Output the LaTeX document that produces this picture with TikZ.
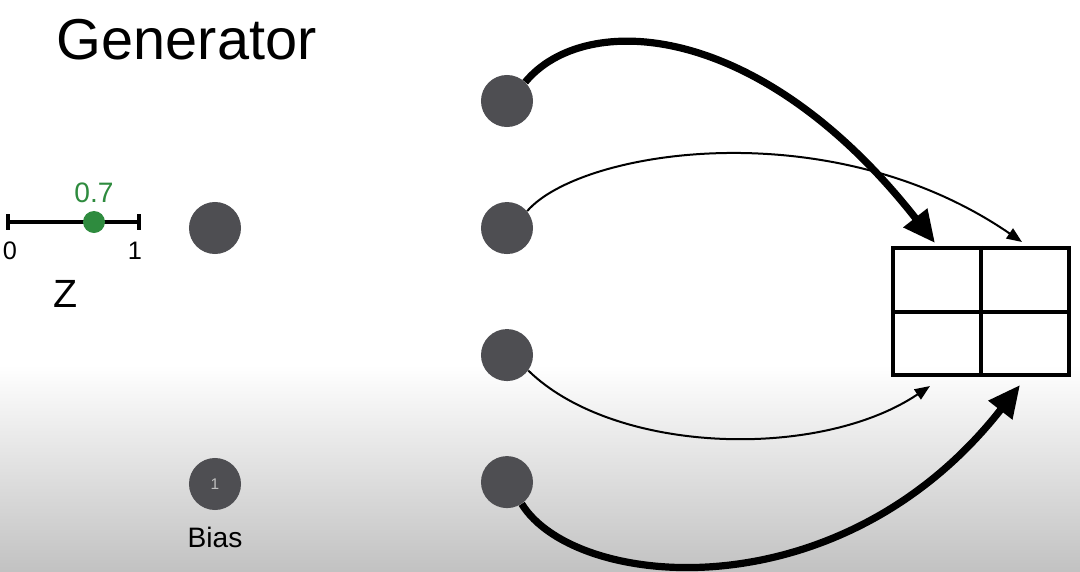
\documentclass[tikz,border=0pt]{standalone}
\usepackage{fontspec}
\setmainfont{Liberation Sans}
\usetikzlibrary{arrows.meta,positioning}
\definecolor{nodegray}{HTML}{4E4E52}
\definecolor{zgreen}{HTML}{2E8B3E}

\begin{document}
\begin{tikzpicture}[x=0.025cm,y=-0.025cm,node distance={3.175cm},on grid,
  main/.style={circle,fill=nodegray,minimum size=1.3cm,inner sep=0pt},
  weakedge/.style={-{Triangle[length=0.38cm,width=0.3cm]},line width=0.05cm},
  strongedge/.style={-{Triangle[length=0.8cm,width=0.72cm]},line width=0.18cm}]
\useasboundingbox (0,0) rectangle (1080,572);
\fill[white] (0,0) rectangle (1080,365);
\shade[top color=white,bottom color=black!24] (0,365) rectangle (1080,572);

\node[anchor=west,font=\fontsize{41}{48}\selectfont] (title) at (52,40) {Generator};

% latent value z
\draw[line width=0.08cm] (8,222) -- (139,222);
\draw[line width=0.08cm] (8,214) -- (8,230);
\draw[line width=0.08cm] (139,214) -- (139,230);
\node[circle,fill=zgreen,minimum size=0.55cm,inner sep=0pt] (zval) at (94,222) {};
\node[text=zgreen,font=\fontsize{20}{24}\selectfont] (zlbl) at (94,193) {0.7};
\node[font=\fontsize{18}{22}\selectfont] (zmin) at (10,251) {0};
\node[font=\fontsize{18}{22}\selectfont] (zmax) at (135,251) {1};
\node[font=\fontsize{28}{33}\selectfont] (zname) at (66,294) {Z};

% input and bias
\node[main] (in) at (215,228) {};
\node[main,text=black!25,font=\fontsize{11}{13}\selectfont] (bias) at (215,484) {1};
\node[font=\fontsize{20}{24}\selectfont] (biaslbl) at (215,537) {Bias};

% hidden layer
\node[main] (h1) at (507,101) {};
\node[main] (h2) [below=of h1] {};
\node[main] (h3) [below=of h2] {};
\node[main] (h4) [below=of h3] {};

% output image
\node[draw,line width=0.1cm,minimum width=4.4cm,minimum height=3.175cm,inner sep=0pt] (img) at (981,311.5) {};
\draw[line width=0.1cm] (img.north) -- (img.south);
\draw[line width=0.1cm] (img.west) -- (img.east);

\coordinate (t1) at (935,243);
\coordinate (t2) at (1022,242);
\coordinate (t3) at (930,386);
\coordinate (t4) at (1020,385);

\draw[strongedge] (h1.46) .. controls (585,10) and (760,20) .. (t1);
\draw[weakedge] (h2.40) .. controls (580,150) and (830,110) .. (t2);
\draw[weakedge] (h3.-36) .. controls (615,455) and (820,460) .. (t3);
\draw[strongedge] (h4.-56) .. controls (575,590) and (840,615) .. (t4);

\end{tikzpicture}
\end{document}
